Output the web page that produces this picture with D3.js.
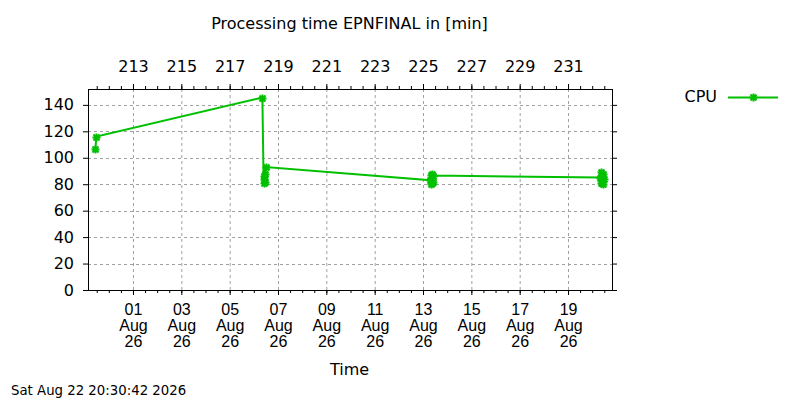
<!DOCTYPE html>
<html>
<head>
<meta charset="utf-8">
<script src="https://cdn.jsdelivr.net/npm/d3@7"></script>
<style>
  body { margin: 0; background: #fff; }
  svg { font-family: "DejaVu Sans", sans-serif; }
</style>
</head>
<body>
<div id="chart"></div>
<script>
// time of each measurement (UTC) and the CPU processing time in minutes
var cpuTimes = [
    "2026-07-30T10:40", "2026-07-30T11:40",
    "2026-08-06T08:30", "2026-08-06T09:40", "2026-08-06T10:00", "2026-08-06T10:20",
    "2026-08-06T10:40", "2026-08-06T11:00", "2026-08-06T11:45",
    "2026-08-13T07:00", "2026-08-13T07:30", "2026-08-13T08:00", "2026-08-13T08:30",
    "2026-08-13T09:00", "2026-08-13T09:30", "2026-08-13T10:00",
    "2026-08-20T08:00", "2026-08-20T08:30", "2026-08-20T09:00", "2026-08-20T09:30",
    "2026-08-20T10:00", "2026-08-20T10:30", "2026-08-20T11:00", "2026-08-20T11:30"
];
var cpuValues = [
    106.5, 116,
    145.5, 84, 86, 81, 88, 82, 93,
    83, 80, 87, 81, 88, 82, 86.5,
    85, 81, 89, 83, 87, 80.5, 88, 84
];

var xRange = ["2026-07-30T03:20", "2026-08-20T19:40"];
var xTickDates = ["2026-08-01T00:00", "2026-08-03T00:00", "2026-08-05T00:00", "2026-08-07T00:00",
    "2026-08-09T00:00", "2026-08-11T00:00", "2026-08-13T00:00", "2026-08-15T00:00",
    "2026-08-17T00:00", "2026-08-19T00:00"];
var topTickLabels = ["213", "215", "217", "219", "221", "223", "225", "227", "229", "231"];
var yTicks = [0, 20, 40, 60, 80, 100, 120, 140];
var yMax = 152;

var svgWidth = 800;
var svgHeight = 400;
var margin = { top: 89, right: 188, bottom: 110, left: 88 };
var width = svgWidth - margin.left - margin.right;
var height = svgHeight - margin.top - margin.bottom;

var green = "#00c000";
var parseTime = d3.utcParse("%Y-%m-%dT%H:%M");

var data = cpuTimes.map(function (t, i) {
    return { time: parseTime(t), cpu: cpuValues[i] };
});
var tickDates = xTickDates.map(parseTime);

var svg = d3.select("#chart")
    .append("svg")
    .attr("width", svgWidth)
    .attr("height", svgHeight);

var chartGroup = svg.append("g")
    .attr("transform", `translate(${margin.left}, ${margin.top})`);

var xScale = d3.scaleUtc()
    .domain(xRange.map(parseTime))
    .range([0, width]);

var yScale = d3.scaleLinear()
    .domain([0, yMax])
    .range([height, 0]);

// grid
chartGroup.append("g")
    .selectAll("line.gx")
    .data(tickDates)
    .enter()
    .append("line")
    .attr("x1", d => xScale(d) + 0.5)
    .attr("x2", d => xScale(d) + 0.5)
    .attr("y1", 0)
    .attr("y2", height)
    .attr("stroke", "#a0a0a0")
    .attr("stroke-dasharray", "3,3");

chartGroup.append("g")
    .selectAll("line.gy")
    .data(yTicks.filter(d => d > 0))
    .enter()
    .append("line")
    .attr("x1", 0)
    .attr("x2", width)
    .attr("y1", d => Math.round(yScale(d)) + 0.5)
    .attr("y2", d => Math.round(yScale(d)) + 0.5)
    .attr("stroke", "#a0a0a0")
    .attr("stroke-dasharray", "3,3");

// minor ticks every 12 hours, top and bottom
var minorTicks = d3.utcHour.every(12).range(xScale.domain()[0], xScale.domain()[1]);

function styleAxis(g) {
    g.select(".domain").remove();
    g.selectAll("line").attr("stroke", "#000");
    g.selectAll("text")
        .attr("font-family", "DejaVu Sans")
        .attr("font-size", "16px")
        .attr("fill", "#000");
}

chartGroup.append("g")
    .attr("transform", `translate(0, ${height})`)
    .call(d3.axisBottom(xScale).tickValues(minorTicks).tickSize(3).tickFormat(""))
    .call(styleAxis);

chartGroup.append("g")
    .call(d3.axisTop(xScale).tickValues(minorTicks).tickSize(3).tickFormat(""))
    .call(styleAxis);

// major ticks bottom, labels in three lines
var bottomAxis = chartGroup.append("g")
    .attr("transform", `translate(0, ${height})`)
    .call(d3.axisBottom(xScale).tickValues(tickDates).tickSize(5).tickFormat(""))
    .call(styleAxis);

var labelFormats = [d3.utcFormat("%d"), d3.utcFormat("%b"), d3.utcFormat("%y")];
bottomAxis.selectAll(".tick")
    .each(function (d) {
        var t = d3.select(this);
        labelFormats.forEach(function (f, i) {
            t.append("text")
                .attr("y", 25 + i * 16)
                .attr("text-anchor", "middle")
                .attr("font-size", "16px")
                .attr("fill", "#000")
                .text(f(d));
        });
    });

// top axis: day of year
chartGroup.append("g")
    .call(d3.axisTop(xScale).tickValues(tickDates).tickSize(5).tickPadding(12)
        .tickFormat((d, i) => topTickLabels[i]))
    .call(styleAxis);

// y axes (left labelled, right mirrored)
chartGroup.append("g")
    .call(d3.axisLeft(yScale).tickValues(yTicks).tickSize(5).tickPadding(9))
    .call(styleAxis);

chartGroup.append("g")
    .attr("transform", `translate(${width}, 0)`)
    .call(d3.axisRight(yScale).tickValues(yTicks).tickSize(5).tickFormat(""))
    .call(styleAxis);

// border
chartGroup.append("rect")
    .attr("x", 0.5)
    .attr("y", 0.5)
    .attr("width", width)
    .attr("height", height)
    .attr("fill", "none")
    .attr("stroke", "#000");

// CPU series
var line = d3.line()
    .x(d => xScale(d.time))
    .y(d => yScale(d.cpu));

chartGroup.append("path")
    .datum(data)
    .attr("d", line)
    .attr("fill", "none")
    .attr("stroke", green)
    .attr("stroke-width", 2);

// gnuplot style asterisk (+ and x)
var marker = "M-4,0H4M0,-4V4M-3,-3L3,3M-3,3L3,-3";

chartGroup.selectAll(".pt")
    .data(data)
    .enter()
    .append("path")
    .attr("class", "pt")
    .attr("transform", d => `translate(${Math.round(xScale(d.time)) + 0.5}, ${Math.round(yScale(d.cpu)) + 0.5})`)
    .attr("d", marker)
    .attr("stroke", green)
    .attr("stroke-width", 2)
    .attr("fill", "none");

// title and labels
svg.append("text")
    .attr("x", 349.5)
    .attr("y", 29)
    .attr("text-anchor", "middle")
    .attr("font-size", "16px")
    .text("Processing time EPNFINAL in [min]");

svg.append("text")
    .attr("x", 349.5)
    .attr("y", 375)
    .attr("text-anchor", "middle")
    .attr("font-size", "16px")
    .text("Time");

svg.append("text")
    .attr("x", 11)
    .attr("y", 395)
    .attr("font-size", "13.3px")
    .text("Sat Aug 22 20:30:42 2026");

// legend
var legend = svg.append("g")
    .attr("transform", "translate(0, 97)");

legend.append("text")
    .attr("x", 717)
    .attr("y", 5)
    .attr("text-anchor", "end")
    .attr("font-size", "16px")
    .text("CPU");

legend.append("line")
    .attr("x1", 728)
    .attr("x2", 778)
    .attr("y1", 0.5)
    .attr("y2", 0.5)
    .attr("stroke", green)
    .attr("stroke-width", 2);

legend.append("path")
    .attr("transform", "translate(753.5, 0.5)")
    .attr("d", marker)
    .attr("stroke", green)
    .attr("stroke-width", 2)
    .attr("fill", "none");
</script>
</body>
</html>
